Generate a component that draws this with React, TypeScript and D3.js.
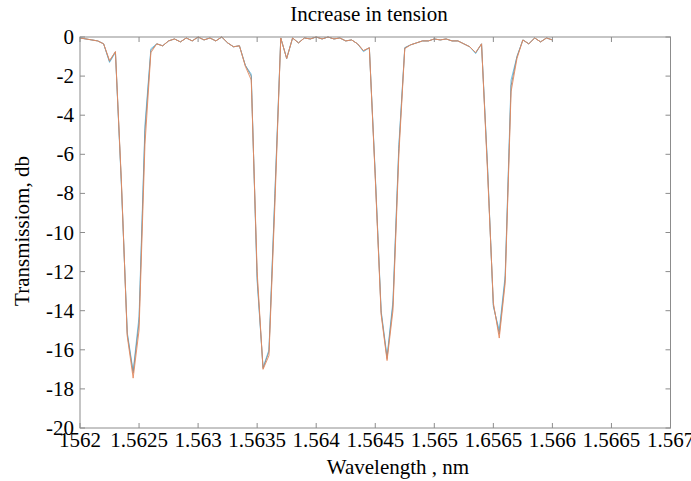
import React from "react";
import * as d3 from "d3";

const W = 691;
const H = 481;
const M = { left: 80, right: 20, top: 37, bottom: 53 };

const lambdaStart = 1562;
const lambdaStep = 0.05;

const seriesBlue = [
  -0.05, -0.1, -0.15, -0.2, -0.35, -1.3, -0.8, -7.5, -15.1, -17.1,
  -14.3, -4.5, -0.6, -0.35, -0.45, -0.2, -0.1, -0.25, -0.05, -0.2,
  0, -0.15, -0.05, -0.2, 0, -0.3, -0.5, -0.45, -1.45, -1.9,
  -12.5, -16.9, -16.0, -8, -0.05, -1.1, -0.05, -0.3, -0.05, -0.1,
  0, -0.1, 0, -0.1, -0.05, -0.2, -0.15, -0.35, -0.75, -0.55,
  -7, -14, -16.35, -13.5, -5.5, -0.55, -0.4, -0.3, -0.2, -0.2,
  -0.1, -0.15, -0.1, -0.2, -0.2, -0.35, -0.5, -0.85, -0.35, -6.5,
  -13.8, -15.0, -12.2, -2.2, -1.0, -0.15, -0.35, -0.05, -0.25, -0.05,
  -0.15,
];

const seriesGray = [
  -0.05, -0.1, -0.15, -0.2, -0.35, -1.25, -0.75, -7.4, -15.2, -17.2,
  -14.6, -4.8, -0.7, -0.35, -0.45, -0.2, -0.1, -0.25, -0.05, -0.2,
  0, -0.15, -0.05, -0.2, 0, -0.3, -0.5, -0.45, -1.45, -2.0,
  -12.3, -16.95, -16.1, -8.2, -0.05, -1.1, -0.05, -0.3, -0.05, -0.1,
  0, -0.1, 0, -0.1, -0.05, -0.2, -0.15, -0.35, -0.7, -0.55,
  -7.1, -14.1, -16.45, -13.7, -5.7, -0.55, -0.4, -0.3, -0.2, -0.2,
  -0.1, -0.15, -0.1, -0.2, -0.2, -0.35, -0.5, -0.8, -0.35, -6.6,
  -13.7, -15.2, -12.4, -2.5, -1.0, -0.15, -0.35, -0.05, -0.25, -0.05,
  -0.15,
];

const seriesOrange = [
  -0.05, -0.1, -0.15, -0.2, -0.35, -1.2, -0.75, -7.3, -15.3, -17.45,
  -15.0, -5.5, -0.8, -0.35, -0.45, -0.2, -0.1, -0.25, -0.05, -0.2,
  0, -0.15, -0.05, -0.2, 0, -0.3, -0.5, -0.45, -1.5, -2.2,
  -12.0, -17.0, -16.3, -8.6, -0.05, -1.1, -0.05, -0.3, -0.05, -0.1,
  0, -0.1, 0, -0.1, -0.05, -0.2, -0.15, -0.35, -0.7, -0.55,
  -7.2, -14.2, -16.55, -14.0, -6.0, -0.6, -0.4, -0.3, -0.2, -0.2,
  -0.1, -0.15, -0.1, -0.2, -0.2, -0.35, -0.5, -0.8, -0.35, -6.8,
  -13.6, -15.4, -12.6, -2.8, -1.1, -0.15, -0.35, -0.05, -0.25, -0.05,
  -0.15,
];

const xTickValues = [1562, 1562.5, 1563, 1563.5, 1564, 1564.5, 1565, 1565.5, 1566, 1566.5, 1567];
const xTickLabels = ["1562", "1.5625", "1.563", "1.5635", "1.564", "1.5645", "1.565", "1.6565", "1.566", "1.5665", "1.567"];
const yTickValues = [0, -2, -4, -6, -8, -10, -12, -14, -16, -18, -20];
const yTickLabels = ["0", "-2", "-4", "-6", "-8", "-10", "-12", "-14", "-16", "-18", "-20"];

const titleText = "Increase in tension";
const xLabelText = "Wavelength , nm";
const yLabelText = "Transmissiom, db";

const seriesList = [
  { values: seriesBlue, color: "#5fc0ea" },
  { values: seriesGray, color: "#8a8a8a" },
  { values: seriesOrange, color: "#e58a5e" },
];

export default function App() {
  const x = d3.scaleLinear().domain([1562, 1567]).range([M.left, W - M.right - 0.5]);
  const y = d3.scaleLinear().domain([-20, 0]).range([H - M.bottom, M.top]);
  const lambdas = seriesBlue.map((_, i) => lambdaStart + i * lambdaStep);
  const line = d3
    .line<number>()
    .x((_, i) => x(lambdas[i]))
    .y((d) => y(d));

  const axisColor = "#8c8c8c";
  const tickLen = 5;
  const font = "Liberation Serif, DejaVu Serif, serif";
  const x0 = x.range()[0];
  const x1 = x.range()[1];
  const y0 = y.range()[0];
  const y1 = y.range()[1];

  return (
    <svg width={W} height={H} style={{ position: "absolute", left: 0, top: 0, background: "#fff" }}>
      <rect x={0} y={0} width={W} height={H} fill="#fff" />
      <g fill="none" strokeWidth={1}>
        {seriesList.map((s, i) => (
          <path key={i} d={line(s.values) || ""} stroke={s.color} strokeLinejoin="round" strokeOpacity={0.9} />
        ))}
      </g>
      <g stroke={axisColor} strokeWidth={1} fill="none">
        <rect x={x0} y={y1} width={x1 - x0} height={y0 - y1} />
        {xTickValues.map((v, i) => (
          <g key={"xt" + i}>
            <line x1={x(v)} x2={x(v)} y1={y0} y2={y0 - tickLen} />
            <line x1={x(v)} x2={x(v)} y1={y1} y2={y1 + tickLen} />
          </g>
        ))}
        {yTickValues.map((v, i) => (
          <g key={"yt" + i}>
            <line x1={x0} x2={x0 + tickLen} y1={y(v)} y2={y(v)} />
            <line x1={x1} x2={x1 - tickLen} y1={y(v)} y2={y(v)} />
          </g>
        ))}
      </g>
      <g style={{ fontFamily: font, fontSize: "21px" }} fill="#000">
        {xTickValues.map((v, i) => (
          <text key={"xl" + i} x={x(v)} y={y0 + 19} textAnchor="middle">
            {xTickLabels[i]}
          </text>
        ))}
        {yTickValues.map((v, i) => (
          <text key={"yl" + i} x={x0 - 6} y={y(v) + 7} textAnchor="end">
            {yTickLabels[i]}
          </text>
        ))}
        <text x={369} y={21} textAnchor="middle">
          {titleText}
        </text>
        <text x={398} y={474} textAnchor="middle">
          {xLabelText}
        </text>
        <text transform={`translate(29,231) rotate(-90)`} textAnchor="middle">
          {yLabelText}
        </text>
      </g>
    </svg>
  );
}
